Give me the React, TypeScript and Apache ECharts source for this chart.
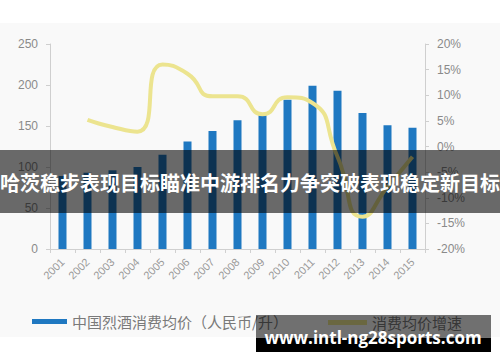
import React, { useEffect, useRef } from "react";
import * as echarts from "echarts";

const years = ["2001","2002","2003","2004","2005","2006","2007","2008","2009","2010","2011","2012","2013","2014","2015"];
const avgPrice = [89, 93, 96, 100, 115, 131, 144, 157, 163, 182, 199, 193, 166, 151, 148];
const priceGrowth = [null, 5.2, 3.8, 2.9, 16, 14.2, 9.8, 9.8, 6.3, 9.6, 8.5, -2, -13.7, -7.9, -2];
const leftTicks = [0, 50, 100, 150, 200, 250];
const rightTicks = [-20, -15, -10, -5, 0, 5, 10, 15, 20];

const barName = "中国烈酒消费均价（人民币/升）";
const lineName = "消费均价增速";
const bannerText = "哈茨稳步表现目标瞄准中游排名力争突破表现稳定新目标";
const watermark = "www.intl-ng28sports.com";

export default function App() {
  const ref = useRef<HTMLDivElement>(null);
  useEffect(() => {
    if (!ref.current) return;
    const chart = echarts.init(ref.current, null, { renderer: "svg" });
    const axisLabelStyle = { color: "#8a8a8a", fontSize: 12, fontFamily: "Liberation Sans" };
    chart.setOption({
      animation: false,
      backgroundColor: "#ffffff",
      grid: { left: 50, right: 75, top: 44, bottom: 113 },
      legend: [
        {
          left: 27, top: 309, icon: "rect", itemWidth: 35, itemHeight: 5, itemGap: 0,
          data: [barName],
          textStyle: { color: "#7a7a7a", fontSize: 15, fontFamily: "Noto Sans CJK SC" },
        },
        {
          left: 323, top: 310, icon: "rect", itemWidth: 39, itemHeight: 5, itemGap: 0,
          data: [lineName],
          textStyle: { color: "#7a7a7a", fontSize: 15, fontFamily: "Noto Sans CJK SC" },
        },
      ],
      xAxis: {
        type: "category",
        data: years,
        axisLine: { lineStyle: { color: "#d0d0d0" } },
        axisTick: { show: true, length: 4, lineStyle: { color: "#d0d0d0" } },
        axisLabel: { rotate: 45, margin: 11, color: "#999999", fontSize: 11, fontFamily: "Liberation Sans" },
      },
      yAxis: [
        {
          type: "value", min: 0, max: 250, interval: 50,
          axisLine: { show: true, lineStyle: { color: "#cfcfcf" } },
          axisTick: { show: true, length: 4, lineStyle: { color: "#cfcfcf" } },
          axisLabel: { ...axisLabelStyle, margin: 12, formatter: (v: number) => (leftTicks.includes(v) ? String(v) : "") },
          splitLine: { show: false },
        },
        {
          type: "value", min: -20, max: 20, interval: 5,
          axisLine: { show: true, lineStyle: { color: "#cfcfcf" } },
          axisTick: { show: true, length: 4, lineStyle: { color: "#cfcfcf" } },
          axisLabel: { ...axisLabelStyle, margin: 12, formatter: (v: number) => (rightTicks.includes(v) ? v + "%" : "") },
          splitLine: { show: false },
        },
      ],
      series: [
        {
          name: barName, type: "bar", data: avgPrice, barWidth: 8,
          itemStyle: { color: "#1f78c1" },
        },
        {
          name: lineName, type: "line", yAxisIndex: 1, data: priceGrowth, smooth: 0.6,
          showSymbol: false, symbol: "none", connectNulls: false,
          lineStyle: { color: "#ece48f", width: 4 },
          itemStyle: { color: "#ece48f" },
          z: 3,
        },
      ],
      graphic: [
        { type: "rect", z: -10, silent: true, shape: { x: 0, y: 23, width: 500, height: 314 }, style: { fill: "#f9f9f9" } },
        { type: "rect", z: 100, silent: true, shape: { x: 0, y: 150, width: 500, height: 63 }, style: { fill: "rgba(0,0,0,0.58)" } },
        {
          type: "text", z: 101, silent: true, x: 250, y: 182,
          style: { text: bannerText, fill: "#ffffff", fontSize: 20, fontWeight: "bold", fontFamily: "Noto Sans CJK SC", align: "center", verticalAlign: "middle" },
        },
        { type: "rect", z: 100, silent: true, shape: { x: 256, y: 315, width: 235, height: 23 }, style: { fill: "rgba(0,0,0,0.55)" } },
        { type: "rect", z: 100, silent: true, shape: { x: 256, y: 338, width: 235, height: 14 }, style: { fill: "#000000" } },
        {
          type: "text", z: 101, silent: true, x: 373, y: 337,
          style: { text: watermark, fill: "#ffffff", fontSize: 17, fontWeight: "bold", fontFamily: "Open Sans", align: "center", verticalAlign: "middle" },
        },
      ],
    });
    return () => chart.dispose();
  }, []);
  return <div ref={ref} style={{ width: 500, height: 362, position: "absolute", left: 0, top: 0 }} />;
}
